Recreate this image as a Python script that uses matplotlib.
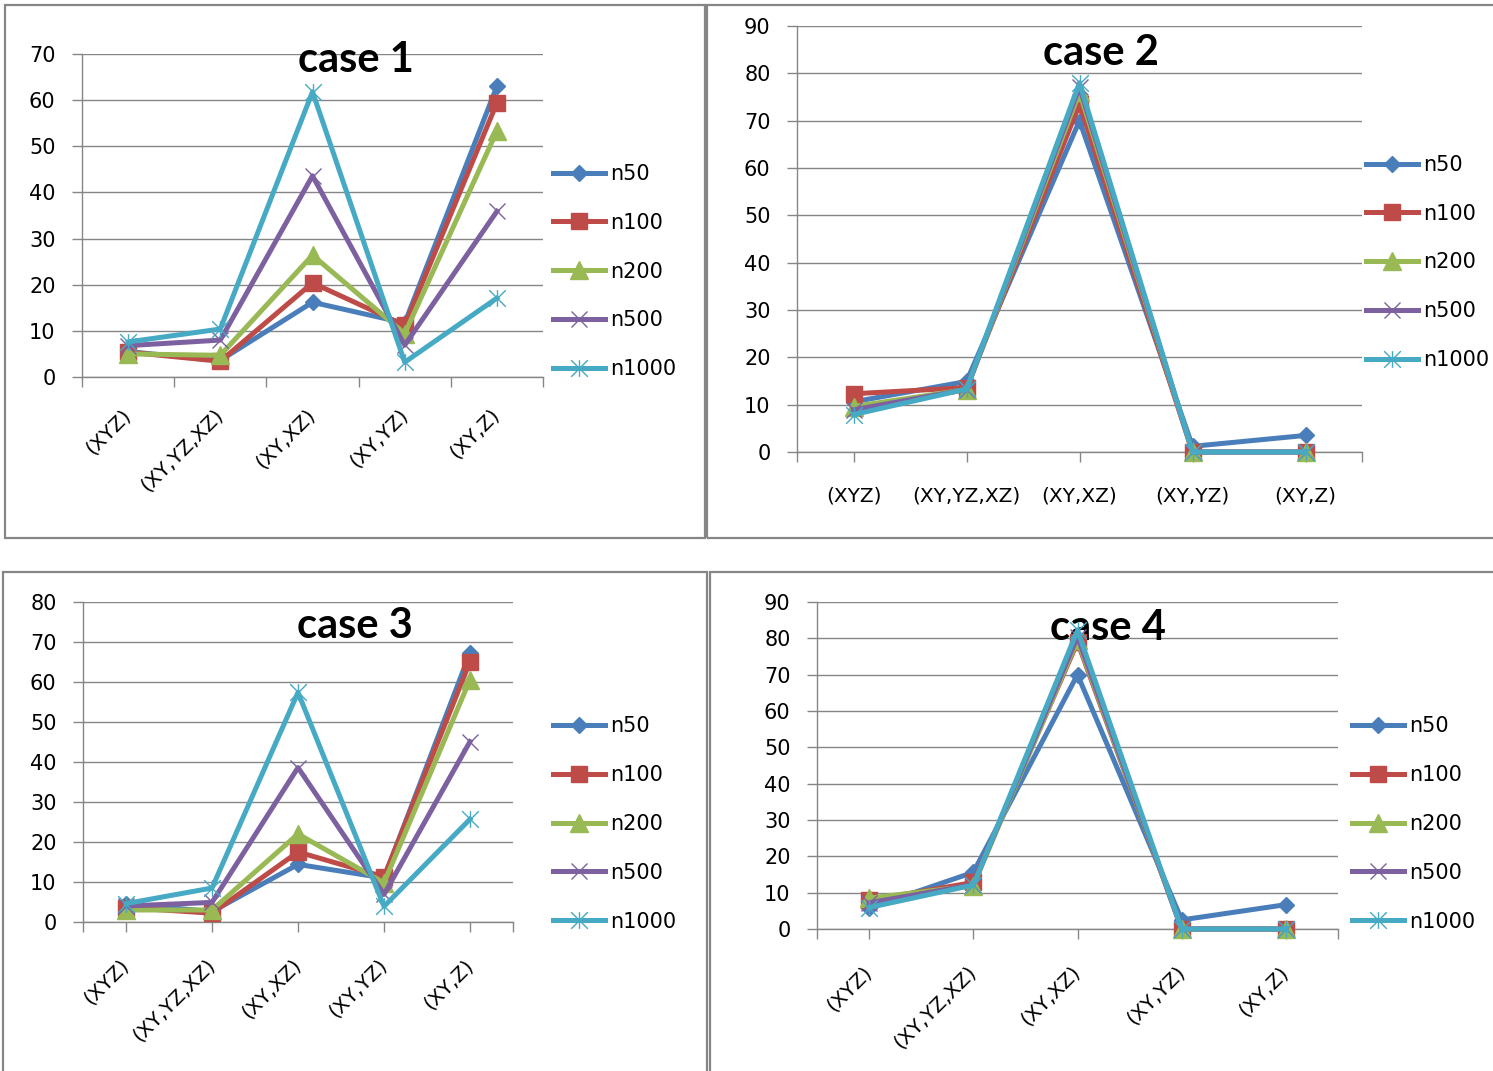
import matplotlib
matplotlib.use("Agg")
import matplotlib.pyplot as plt
from matplotlib.patches import Rectangle
from matplotlib.path import Path

W, H = 1493, 1071

categories = ["(XYZ)", "(XY,YZ,XZ)", "(XY,XZ)", "(XY,YZ)", "(XY,Z)"]
series_names = ["n50", "n100", "n200", "n500", "n1000"]
series_colors = ["#4a7ebb", "#be4b48", "#98b954", "#7d60a0", "#46aac5"]

# case 1
case1_n50 = [5.5, 3.6, 16.2, 11.7, 63.0]
case1_n100 = [5.4, 3.4, 20.4, 11.2, 59.4]
case1_n200 = [5.0, 4.7, 26.4, 9.4, 53.3]
case1_n500 = [6.8, 8.0, 43.6, 6.9, 35.9]
case1_n1000 = [7.6, 10.4, 61.8, 3.2, 17.1]

# case 2
case2_n50 = [10.6, 14.9, 70.0, 1.2, 3.5]
case2_n100 = [12.3, 13.6, 73.5, 0.0, 0.0]
case2_n200 = [9.6, 13.2, 76.0, 0.0, 0.0]
case2_n500 = [8.9, 13.2, 77.1, 0.0, 0.0]
case2_n1000 = [7.9, 13.3, 78.0, 0.0, 0.0]

# case 3
case3_n50 = [4.6, 2.6, 14.4, 11.0, 67.3]
case3_n100 = [3.6, 2.2, 17.5, 11.3, 65.1]
case3_n200 = [3.0, 3.0, 22.0, 9.8, 60.6]
case3_n500 = [4.0, 4.9, 38.6, 6.9, 45.1]
case3_n1000 = [4.6, 8.5, 57.4, 3.9, 25.7]

# case 4
case4_n50 = [5.8, 15.6, 70.0, 2.5, 6.7]
case4_n100 = [7.9, 12.8, 79.0, 0.0, 0.0]
case4_n200 = [8.5, 11.9, 79.6, 0.0, 0.0]
case4_n500 = [7.2, 12.2, 80.5, 0.0, 0.0]
case4_n1000 = [5.9, 12.1, 82.2, 0.0, 0.0]

GRAY = "#868686"

# Excel-style "star": an x with a vertical bar through it
star = Path([(-1, -1), (1, 1), (-1, 1), (1, -1), (0, -1), (0, 1)],
            [Path.MOVETO, Path.LINETO] * 3)
marker_shapes = ["D", "s", "^", "x", star]
marker_sizes = [8.5, 12, 13, 12, 12]
marker_filled = [True, True, True, False, False]

plt.rcParams["font.family"] = ["DejaVu Sans"]

fig = plt.figure(figsize=(W / 100, H / 100), dpi=100)


def fx(px):
    return px / W


def fy(py):
    return 1 - py / H


def draw_case(plot_px, ytop, values, title, title_px, legend_px,
              ticks_between=False, rotate=True, label_pad=22):
    x0, y0, x1, y1 = plot_px
    ax = fig.add_axes([fx(x0), fy(y1), fx(x1 - x0), (y1 - y0) / H])
    xs = list(range(len(categories)))
    for name, vals, color, m, ms, filled in zip(series_names, values, series_colors,
                                                marker_shapes, marker_sizes, marker_filled):
        ax.plot(xs, vals, color=color, lw=3.6, marker=m, ms=ms,
                mfc=color if filled else "none", mec=color, mew=1.0,
                label=name, clip_on=False, zorder=3)

    ax.set_xlim(-0.5, len(categories) - 0.5)
    ax.set_ylim(0, ytop)
    ax.set_yticks(range(0, ytop + 1, 10))
    ax.yaxis.grid(True, color=GRAY, lw=1.0)
    ax.set_axisbelow(True)
    for side in ("top", "right"):
        ax.spines[side].set_visible(False)
    for side in ("left", "bottom"):
        ax.spines[side].set_color(GRAY)
        ax.spines[side].set_linewidth(1.0)
    ax.tick_params(axis="y", direction="out", length=7, width=1.0, color=GRAY,
                   labelsize=15, pad=12)

    if ticks_between:
        ax.set_xticks([i - 0.5 for i in range(len(categories) + 1)])
        ax.set_xticklabels([])
        ax.set_xticks(xs, minor=True)
        ax.set_xticklabels(categories, minor=True, rotation=45, ha="right",
                           va="center", rotation_mode="anchor", fontsize=14.5)
        ax.tick_params(axis="x", which="major", direction="out", length=7,
                       width=1.0, color=GRAY)
        ax.tick_params(axis="x", which="minor", length=0, pad=label_pad)
    else:
        ax.set_xticks([-0.5] + xs + [len(categories) - 0.5])
        if rotate:
            ax.set_xticklabels([""] + categories + [""], rotation=45, ha="right",
                               va="center", rotation_mode="anchor", fontsize=14.5)
        else:
            ax.set_xticklabels([""] + categories + [""], fontsize=14.5)
        ax.tick_params(axis="x", direction="out", length=7, width=1.0,
                       color=GRAY, pad=label_pad)

    ax.text(fx(title_px[0]), fy(title_px[1]), title, transform=fig.transFigure,
            ha="center", va="baseline", fontsize=30, fontweight="bold",
            family=["Lato", "DejaVu Sans"], zorder=1)

    ax.legend(loc="center left", bbox_to_anchor=(fx(legend_px[0]), fy(legend_px[1])),
              bbox_transform=fig.transFigure, frameon=False, fontsize=15,
              handlelength=2.5, handletextpad=0.25, labelspacing=1.38,
              borderaxespad=0, borderpad=0)
    return ax


# chart-area frames
for bx0, by0, bx1, by1 in [(5, 5, 705, 538), (707, 5, 1500, 538),
                           (3, 572, 707, 1080), (710, 572, 1500, 1080)]:
    fig.patches.append(Rectangle((fx(bx0), fy(by1)), fx(bx1 - bx0), (by1 - by0) / H,
                                 transform=fig.transFigure, fill=False,
                                 edgecolor=GRAY, lw=1.6, zorder=0))

draw_case((82, 54, 543, 377), 70,
          [case1_n50, case1_n100, case1_n200, case1_n500, case1_n1000],
          "case 1", (356, 72), (553, 271.5), ticks_between=True, label_pad=25)

draw_case((797, 26, 1362, 452), 90,
          [case2_n50, case2_n100, case2_n200, case2_n500, case2_n1000],
          "case 2", (1101, 65), (1366, 262.5), rotate=False, label_pad=18)

draw_case((83, 602, 513, 922), 80,
          [case3_n50, case3_n100, case3_n200, case3_n500, case3_n1000],
          "case 3", (355, 638), (553, 824), label_pad=22)

draw_case((817, 602, 1338, 929), 90,
          [case4_n50, case4_n100, case4_n200, case4_n500, case4_n1000],
          "case 4", (1108, 640), (1352, 824), label_pad=22)

fig.savefig("out.png", dpi=100)
